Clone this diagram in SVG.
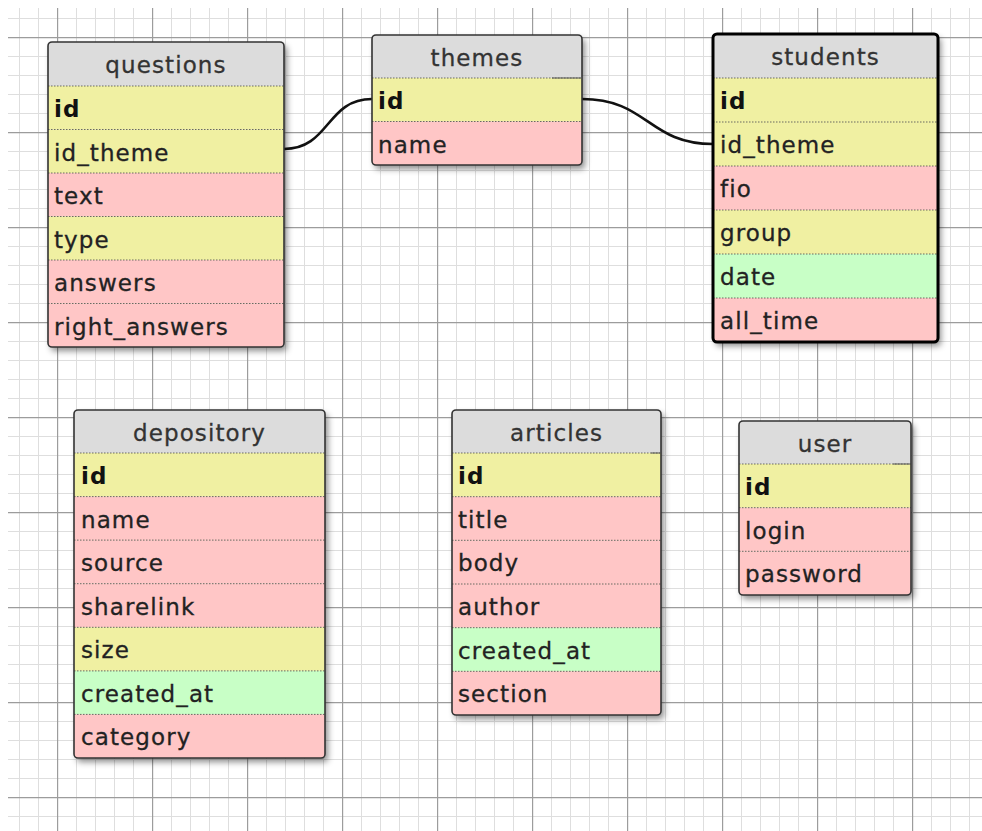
<svg xmlns="http://www.w3.org/2000/svg" width="982" height="831" viewBox="0 0 982 831">
  <defs>
    <style>
      .hd { fill: #dcdcdc; }
      .y { fill: #f0f0a2; }
      .p { fill: #ffc6c6; }
      .g { fill: #c8ffc6; }
      .sep { stroke: #6a6a60; stroke-width: 1; stroke-dasharray: 1.5 1.5; }
      .frame { fill: none; stroke: #333; stroke-width: 1.6; }
      .frame.sel { stroke: #000; stroke-width: 3; }
      .back { fill: #dcdcdc; filter: url(#shadow); }
      text { font-family: "DejaVu Sans", "Liberation Sans", sans-serif; font-size: 23px; letter-spacing: 1.1px; fill: #222; stroke: #222; stroke-width: 0.3px; }
      text.k { font-weight: bold; fill: #111; stroke: none; }
      text.t { text-anchor: middle; fill: #333; stroke: #333; }
      .link { fill: none; stroke: #111; stroke-width: 2.6; }
    </style>
    <filter id="shadow" x="-15%" y="-15%" width="140%" height="140%">
      <feDropShadow dx="3" dy="4" stdDeviation="3" flood-color="#000" flood-opacity="0.45"/>
    </filter>
    <pattern id="grid" patternUnits="userSpaceOnUse" x="57" y="37" width="95" height="95">
      <g stroke="#dedede" stroke-width="1">
        <line x1="19.5" y1="0" x2="19.5" y2="95"/>
        <line x1="38.5" y1="0" x2="38.5" y2="95"/>
        <line x1="57.5" y1="0" x2="57.5" y2="95"/>
        <line x1="76.5" y1="0" x2="76.5" y2="95"/>
        <line x1="0" y1="19.5" x2="95" y2="19.5"/>
        <line x1="0" y1="38.5" x2="95" y2="38.5"/>
        <line x1="0" y1="57.5" x2="95" y2="57.5"/>
        <line x1="0" y1="76.5" x2="95" y2="76.5"/>
      </g>
      <g stroke="#9c9c9c" stroke-width="1.2">
        <line x1="0.6" y1="0" x2="0.6" y2="95"/>
        <line x1="0" y1="0.6" x2="95" y2="0.6"/>
      </g>
    </pattern>
    <clipPath id="c-questions"><rect x="48" y="42" width="236" height="305" rx="4"/></clipPath>
    <clipPath id="c-themes"><rect x="372" y="35" width="210" height="130" rx="4"/></clipPath>
    <clipPath id="c-students"><rect x="713" y="34" width="225" height="308" rx="4"/></clipPath>
    <clipPath id="c-depository"><rect x="74" y="410" width="251" height="348" rx="4"/></clipPath>
    <clipPath id="c-articles"><rect x="452" y="410" width="209" height="305" rx="4"/></clipPath>
    <clipPath id="c-user"><rect x="739" y="421" width="172" height="174" rx="4"/></clipPath>
  </defs>

  <!-- paper -->
  <rect width="982" height="831" fill="#fff"/>
  <rect x="8" y="8" width="974" height="823" fill="url(#grid)"/>

  <!-- relations -->
  <g id="connectors">
    <path class="link" d="M284,149 C330,149 326,99 372,99"/>
    <path class="link" d="M582,99 C648,99 648,144 713,144"/>
  </g>

  <g id="questions">
    <rect class="back" x="48" y="42" width="236" height="305" rx="4"/>
    <g clip-path="url(#c-questions)">
      <rect class="hd" x="48" y="42" width="236" height="44"/>
      <rect class="y" x="48" y="86" width="236" height="43.5"/>
      <rect class="y" x="48" y="129.5" width="236" height="43.5"/>
      <rect class="p" x="48" y="173" width="236" height="43.5"/>
      <rect class="y" x="48" y="216.5" width="236" height="43.5"/>
      <rect class="p" x="48" y="260" width="236" height="43.5"/>
      <rect class="p" x="48" y="303.5" width="236" height="43.5"/>
    </g>
    <g class="sep">
      <line x1="48" y1="86" x2="284" y2="86"/>
      <line x1="48" y1="129.5" x2="284" y2="129.5"/>
      <line x1="48" y1="173" x2="284" y2="173"/>
      <line x1="48" y1="216.5" x2="284" y2="216.5"/>
      <line x1="48" y1="260" x2="284" y2="260"/>
      <line x1="48" y1="303.5" x2="284" y2="303.5"/>
    </g>
    <rect class="frame" x="48" y="42" width="236" height="305" rx="4"/>
    <text class="t" x="166" y="73">questions</text>
    <text class="k" x="54" y="117">id</text>
    <text x="54" y="160.5">id_theme</text>
    <text x="54" y="204">text</text>
    <text x="54" y="247.5">type</text>
    <text x="54" y="291">answers</text>
    <text x="54" y="334.5">right_answers</text>
  </g>

  <g id="themes">
    <rect class="back" x="372" y="35" width="210" height="130" rx="4"/>
    <g clip-path="url(#c-themes)">
      <rect class="hd" x="372" y="35" width="210" height="43"/>
      <rect class="y" x="372" y="78" width="210" height="43.5"/>
      <rect class="p" x="372" y="121.5" width="210" height="43.5"/>
    </g>
    <g class="sep">
      <line x1="372" y1="78" x2="582" y2="78"/>
      <line x1="372" y1="121.5" x2="582" y2="121.5"/>
    </g>
    <line x1="552" y1="78" x2="581" y2="78" stroke="#555" stroke-width="1"/>
    <rect class="frame" x="372" y="35" width="210" height="130" rx="4"/>
    <text class="t" x="477" y="66">themes</text>
    <text class="k" x="378" y="109">id</text>
    <text x="378" y="152.5">name</text>
  </g>

  <g id="students">
    <rect class="back" x="713" y="34" width="225" height="308" rx="4"/>
    <g clip-path="url(#c-students)">
      <rect class="hd" x="713" y="34" width="225" height="44"/>
      <rect class="y" x="713" y="78" width="225" height="44"/>
      <rect class="y" x="713" y="122" width="225" height="44"/>
      <rect class="p" x="713" y="166" width="225" height="44"/>
      <rect class="y" x="713" y="210" width="225" height="44"/>
      <rect class="g" x="713" y="254" width="225" height="44"/>
      <rect class="p" x="713" y="298" width="225" height="44"/>
    </g>
    <g class="sep">
      <line x1="713" y1="78" x2="938" y2="78"/>
      <line x1="713" y1="122" x2="938" y2="122"/>
      <line x1="713" y1="166" x2="938" y2="166"/>
      <line x1="713" y1="210" x2="938" y2="210"/>
      <line x1="713" y1="254" x2="938" y2="254"/>
      <line x1="713" y1="298" x2="938" y2="298"/>
    </g>
    <rect class="frame sel" x="713" y="34" width="225" height="308" rx="4"/>
    <text class="t" x="825.5" y="65">students</text>
    <text class="k" x="720" y="109">id</text>
    <text x="720" y="153">id_theme</text>
    <text x="720" y="197">fio</text>
    <text x="720" y="241">group</text>
    <text x="720" y="285">date</text>
    <text x="720" y="329">all_time</text>
  </g>

  <g id="depository">
    <rect class="back" x="74" y="410" width="251" height="348" rx="4"/>
    <g clip-path="url(#c-depository)">
      <rect class="hd" x="74" y="410" width="251" height="43"/>
      <rect class="y" x="74" y="453" width="251" height="43.6"/>
      <rect class="p" x="74" y="496.6" width="251" height="43.6"/>
      <rect class="p" x="74" y="540.1" width="251" height="43.6"/>
      <rect class="p" x="74" y="583.7" width="251" height="43.6"/>
      <rect class="y" x="74" y="627.3" width="251" height="43.6"/>
      <rect class="g" x="74" y="670.9" width="251" height="43.6"/>
      <rect class="p" x="74" y="714.4" width="251" height="43.6"/>
    </g>
    <g class="sep">
      <line x1="74" y1="453" x2="325" y2="453"/>
      <line x1="74" y1="496.6" x2="325" y2="496.6"/>
      <line x1="74" y1="540.1" x2="325" y2="540.1"/>
      <line x1="74" y1="583.7" x2="325" y2="583.7"/>
      <line x1="74" y1="627.3" x2="325" y2="627.3"/>
      <line x1="74" y1="670.9" x2="325" y2="670.9"/>
      <line x1="74" y1="714.4" x2="325" y2="714.4"/>
    </g>
    <rect class="frame" x="74" y="410" width="251" height="348" rx="4"/>
    <text class="t" x="199.5" y="441">depository</text>
    <text class="k" x="81" y="484">id</text>
    <text x="81" y="527.6">name</text>
    <text x="81" y="571.1">source</text>
    <text x="81" y="614.7">sharelink</text>
    <text x="81" y="658.3">size</text>
    <text x="81" y="701.9">created_at</text>
    <text x="81" y="745.4">category</text>
  </g>

  <g id="articles">
    <rect class="back" x="452" y="410" width="209" height="305" rx="4"/>
    <g clip-path="url(#c-articles)">
      <rect class="hd" x="452" y="410" width="209" height="43"/>
      <rect class="y" x="452" y="453" width="209" height="43.7"/>
      <rect class="p" x="452" y="496.7" width="209" height="43.7"/>
      <rect class="p" x="452" y="540.3" width="209" height="43.7"/>
      <rect class="p" x="452" y="584" width="209" height="43.7"/>
      <rect class="g" x="452" y="627.7" width="209" height="43.7"/>
      <rect class="p" x="452" y="671.3" width="209" height="43.7"/>
    </g>
    <g class="sep">
      <line x1="452" y1="453" x2="661" y2="453"/>
      <line x1="452" y1="496.7" x2="661" y2="496.7"/>
      <line x1="452" y1="540.3" x2="661" y2="540.3"/>
      <line x1="452" y1="584" x2="661" y2="584"/>
      <line x1="452" y1="627.7" x2="661" y2="627.7"/>
      <line x1="452" y1="671.3" x2="661" y2="671.3"/>
    </g>
    <line x1="651" y1="453" x2="660" y2="453" stroke="#555" stroke-width="1"/>
    <rect class="frame" x="452" y="410" width="209" height="305" rx="4"/>
    <text class="t" x="556.5" y="441">articles</text>
    <text class="k" x="458" y="484">id</text>
    <text x="458" y="527.7">title</text>
    <text x="458" y="571.3">body</text>
    <text x="458" y="615">author</text>
    <text x="458" y="658.7">created_at</text>
    <text x="458" y="702.3">section</text>
  </g>

  <g id="user">
    <rect class="back" x="739" y="421" width="172" height="174" rx="4"/>
    <g clip-path="url(#c-user)">
      <rect class="hd" x="739" y="421" width="172" height="43"/>
      <rect class="y" x="739" y="464" width="172" height="43.7"/>
      <rect class="p" x="739" y="507.7" width="172" height="43.7"/>
      <rect class="p" x="739" y="551.3" width="172" height="43.7"/>
    </g>
    <g class="sep">
      <line x1="739" y1="464" x2="911" y2="464"/>
      <line x1="739" y1="507.7" x2="911" y2="507.7"/>
      <line x1="739" y1="551.3" x2="911" y2="551.3"/>
    </g>
    <line x1="893" y1="464" x2="910" y2="464" stroke="#555" stroke-width="1"/>
    <rect class="frame" x="739" y="421" width="172" height="174" rx="4"/>
    <text class="t" x="825" y="452">user</text>
    <text class="k" x="745" y="495">id</text>
    <text x="745" y="538.7">login</text>
    <text x="745" y="582.3">password</text>
  </g>
</svg>
